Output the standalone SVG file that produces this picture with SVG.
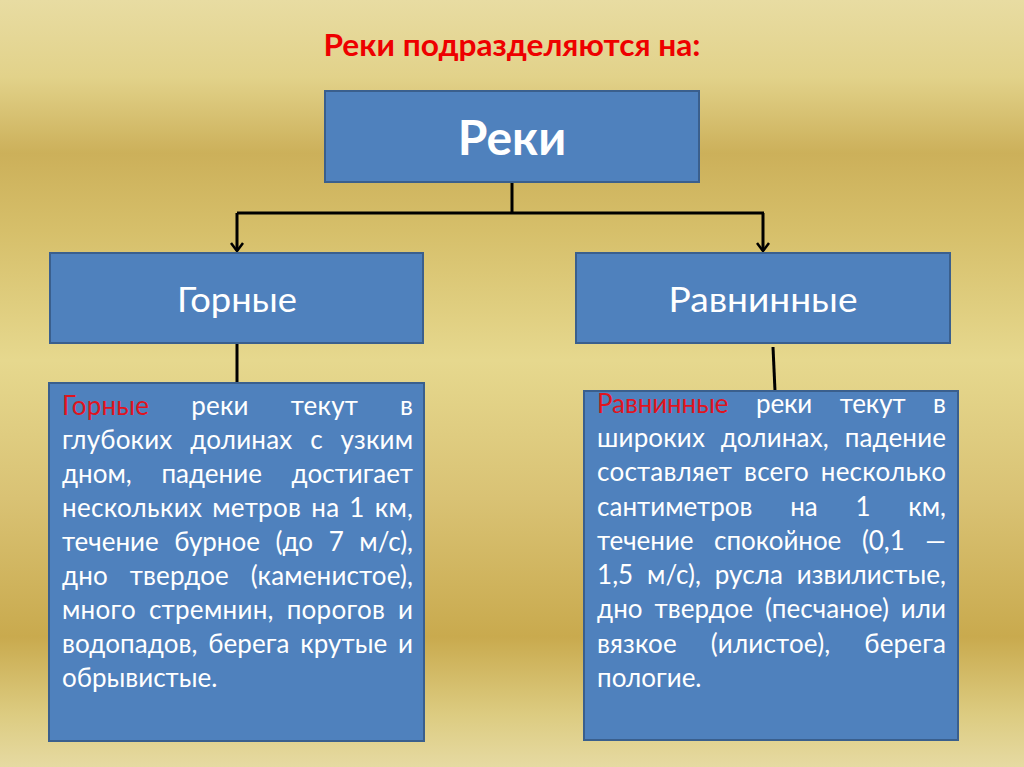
<svg xmlns="http://www.w3.org/2000/svg" width="1024" height="767" viewBox="0 0 1024 767">
<defs>
<linearGradient id="bg" x1="0" y1="0" x2="0" y2="1">
<stop offset="0" stop-color="#e8dca2"/>
<stop offset="0.1" stop-color="#e2d28a"/>
<stop offset="0.2" stop-color="#ccb05a"/>
<stop offset="0.3" stop-color="#d6bf6a"/>
<stop offset="0.47" stop-color="#e6d88e"/>
<stop offset="0.65" stop-color="#d9c274"/>
<stop offset="0.83" stop-color="#c9aa4e"/>
<stop offset="0.93" stop-color="#dccb80"/>
<stop offset="1" stop-color="#e6daa2"/>
</linearGradient>
<marker id="arr" markerWidth="14" markerHeight="14" refX="7" refY="12" orient="0" markerUnits="userSpaceOnUse">
<path d="M1,4 L7,12 L13,4" fill="none" stroke="#000" stroke-width="2.5"/>
</marker>
</defs>
<style>
.box{fill:#4f81bd;stroke:#3a5f8d;stroke-width:2}
.lbl{font-family:Lato,"Open Sans",sans-serif;fill:#fff;text-anchor:middle}
.body{font-family:Lato,"Open Sans",sans-serif;fill:#fff;font-size:26px}
.red{fill:#e0141e}
.con{fill:none;stroke:#000;stroke-width:3}
</style>
<rect width="1024" height="767" fill="url(#bg)"/>
<text x="512" y="56" font-family="Lato,'Open Sans',sans-serif" font-weight="bold" font-size="30" fill="#ee0000" text-anchor="middle" textLength="377" lengthAdjust="spacingAndGlyphs"><tspan>Реки</tspan> <tspan>подразделяются</tspan> <tspan>на:</tspan></text>

<g id="connectors">
<path class="con" d="M512,182 V213 M237,213 H764"/>
<path class="con" d="M237,213 V251" marker-end="url(#arr)"/>
<path class="con" d="M763,213 V251" marker-end="url(#arr)"/>
<path class="con" d="M237,343 V383"/>
<path class="con" d="M773,347 L775,391"/>
</g>

<g id="node-reki">
<rect class="box" x="325" y="91" width="374" height="91"/>
<text class="lbl" x="512" y="155" font-size="48" font-weight="bold">Реки</text>
</g>

<g id="node-gornye">
<rect class="box" x="50" y="253" width="373" height="90"/>
<text class="lbl" x="237" y="312" font-size="34" textLength="120" lengthAdjust="spacingAndGlyphs">Горные</text>
</g>

<g id="node-ravninnye">
<rect class="box" x="576" y="253" width="374" height="90"/>
<text class="lbl" x="763" y="312" font-size="34" textLength="189" lengthAdjust="spacingAndGlyphs">Равнинные</text>
</g>

<g id="node-gornye-desc">
<rect class="box" x="49" y="383" width="375" height="358"/>
<text class="body" x="62" y="415" textLength="351" lengthAdjust="spacing" word-spacing="35"><tspan class="red">Горные</tspan> <tspan>реки</tspan> <tspan>текут</tspan> <tspan>в</tspan></text>
<text class="body" x="62" y="449" textLength="351" lengthAdjust="spacing" word-spacing="11"><tspan>глубоких</tspan> <tspan>долинах</tspan> <tspan>с</tspan> <tspan>узким</tspan></text>
<text class="body" x="62" y="483" textLength="351" lengthAdjust="spacing" word-spacing="23"><tspan>дном,</tspan> <tspan>падение</tspan> <tspan>достигает</tspan></text>
<text class="body" x="62" y="517" textLength="351" lengthAdjust="spacing" word-spacing="3"><tspan>нескольких</tspan> <tspan>метров</tspan> <tspan>на</tspan> <tspan>1</tspan> <tspan>км,</tspan></text>
<text class="body" x="62" y="551" textLength="351" lengthAdjust="spacing" word-spacing="9"><tspan>течение</tspan> <tspan>бурное</tspan> <tspan>(до</tspan> <tspan>7</tspan> <tspan>м/с),</tspan></text>
<text class="body" x="62" y="585" textLength="351" lengthAdjust="spacing" word-spacing="15"><tspan>дно</tspan> <tspan>твердое</tspan> <tspan>(каменистое),</tspan></text>
<text class="body" x="62" y="619" textLength="351" lengthAdjust="spacing" word-spacing="6"><tspan>много</tspan> <tspan>стремнин,</tspan> <tspan>порогов</tspan> <tspan>и</tspan></text>
<text class="body" x="62" y="653" textLength="351" lengthAdjust="spacing" word-spacing="4"><tspan>водопадов,</tspan> <tspan>берега</tspan> <tspan>крутые</tspan> <tspan>и</tspan></text>
<text class="body" x="62" y="687"><tspan>обрывистые.</tspan></text>
</g>

<g id="node-ravninnye-desc">
<rect class="box" x="584" y="391" width="374" height="349"/>
<text class="body" x="597" y="413" textLength="349" lengthAdjust="spacing" word-spacing="21"><tspan class="red">Равнинные</tspan> <tspan>реки</tspan> <tspan>текут</tspan> <tspan>в</tspan></text>
<text class="body" x="597" y="447" textLength="349" lengthAdjust="spacing" word-spacing="9"><tspan>широких</tspan> <tspan>долинах,</tspan> <tspan>падение</tspan></text>
<text class="body" x="597" y="481" textLength="349" lengthAdjust="spacing" word-spacing="5"><tspan>составляет</tspan> <tspan>всего</tspan> <tspan>несколько</tspan></text>
<text class="body" x="597" y="516" textLength="349" lengthAdjust="spacing" word-spacing="31"><tspan>сантиметров</tspan> <tspan>на</tspan> <tspan>1</tspan> <tspan>км,</tspan></text>
<text class="body" x="597" y="550" textLength="349" lengthAdjust="spacing" word-spacing="14"><tspan>течение</tspan> <tspan>спокойное</tspan> <tspan>(0,1</tspan> <tspan>—</tspan></text>
<text class="body" x="597" y="584" textLength="349" lengthAdjust="spacing" word-spacing="7"><tspan>1,5</tspan> <tspan>м/с),</tspan> <tspan>русла</tspan> <tspan>извилистые,</tspan></text>
<text class="body" x="597" y="618" textLength="349" lengthAdjust="spacing" word-spacing="5"><tspan>дно</tspan> <tspan>твердое</tspan> <tspan>(песчаное)</tspan> <tspan>или</tspan></text>
<text class="body" x="597" y="653" textLength="349" lengthAdjust="spacing" word-spacing="27"><tspan>вязкое</tspan> <tspan>(илистое),</tspan> <tspan>берега</tspan></text>
<text class="body" x="597" y="687"><tspan>пологие.</tspan></text>
</g>
</svg>
